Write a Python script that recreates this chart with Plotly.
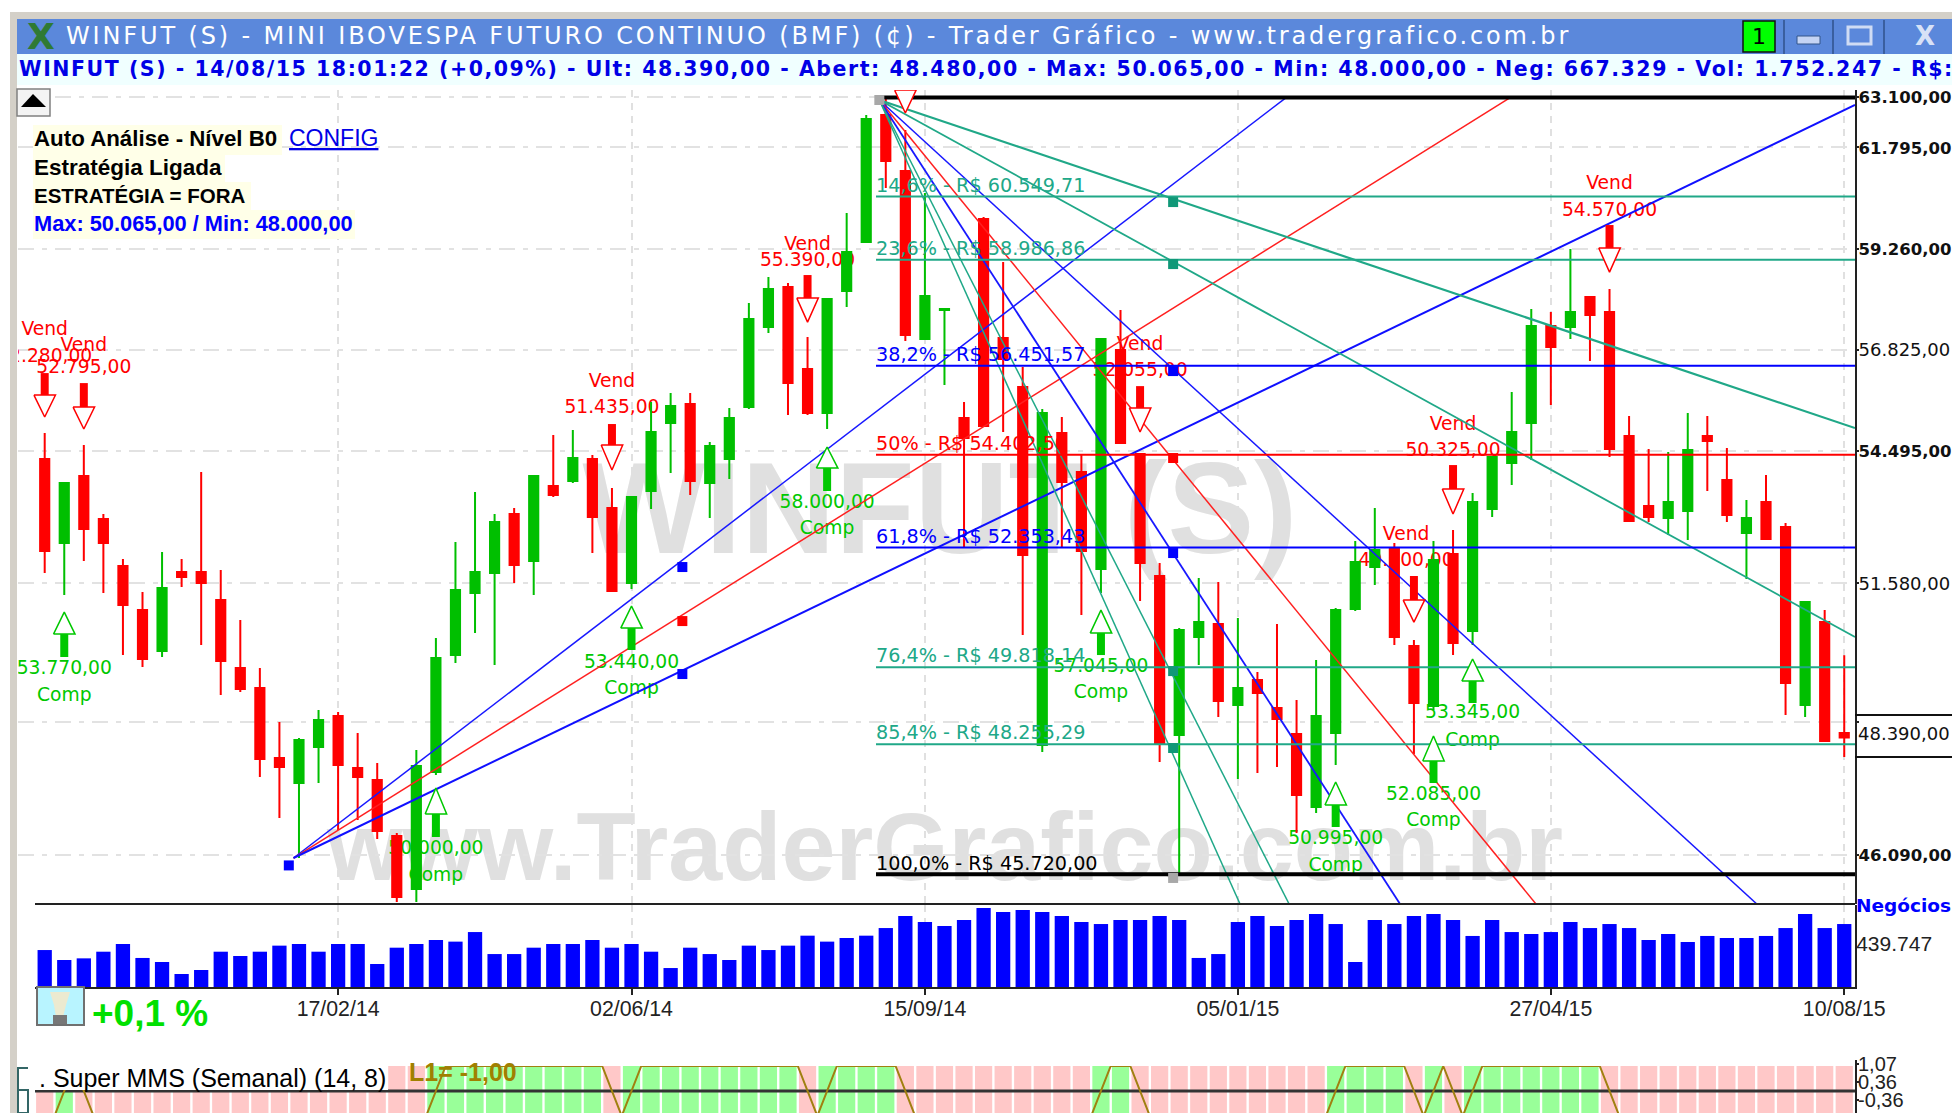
import math
import plotly.graph_objects as go

bar_index = list(range(93))
tick_idx = [15, 30, 45, 61, 77, 92]
tick_labels = ["17/02/14", "02/06/14", "15/09/14", "05/01/15", "27/04/15", "10/08/15"]

high = [54897,53793,54625,53084,52104,51395,52255,52104,54016,51867,
        50802,49801,48700,48378,48943,48902,48478,47880,46511,48138,
        50425,52472,53570,53084,53216,53927,54852,54965,54399,53660,
        53459,55606,55814,55814,54693,55468,57935,58563,58417,57124,
        58031,60137,62631,63085,62242,60638,57791,55606,60037,58928,
        56418,55445,55262,54399,57077,57767,54422,52017,50634,51695,
        51609,50844,49719,50718,49146,49967,51055,52494,53216,52450,
        50383,52494,52733,53548,54354,55837,57791,57719,59246,58103,
        58272,55285,54534,54467,55353,55285,54557,53393,53950,52886,
        51183,51013,50065]
open_ = [54309,52450,53927,52974,51953,51013,50154,51824,51824,51225,
         49801,49391,47979,47484,48198,48821,47781,47543,46453,45444,
         47701,50071,51374,51802,53084,52060,53704,53815,54309,53216,
         51588,53593,55125,55560,53771,54309,55491,57361,58321,56371,
         55353,58224,59419,62631,61194,57077,57767,55239,59988,57100,
         55953,48238,54897,54016,51888,56817,54422,51738,48438,50446,
         50718,49045,49555,48984,48458,47014,48478,51034,51931,52320,
         50258,49024,52212,50571,53194,54219,55125,57385,57361,58079,
         57719,54829,53260,52996,53150,54829,53838,52668,53349,52798,
         49045,50760,48480]
close = [52276,53771,52755,52450,51119,49988,51481,51717,51588,49946,
         49370,47959,47800,48338,48740,47840,47602,46550,45294,47820,
         50009,51438,51824,52908,51974,53927,53504,54331,53018,51417,
         53459,54919,55514,53815,54602,55239,57552,58272,56045,55353,
         58031,59173,62527,61448,57171,58103,57791,54783,55056,56605,
         52190,55353,53793,52276,57077,54670,52017,48278,50592,50760,
         49126,49391,49289,48760,47249,48821,51013,52039,52298,50446,
         49085,52082,50321,53349,54354,54919,57385,56888,57719,57647,
         54534,52930,53018,53349,54512,54715,53062,52996,52537,49494,
         51183,48318,48390]
low = [51802,51331,52060,51374,50071,49822,50030,51502,50279,49248,
       49309,47602,46801,46031,47484,46569,46762,46395,45200,45200,
       47642,49905,50529,49863,51588,51331,53459,53771,52233,51417,
       51459,53194,53994,53504,52996,53860,55445,57219,55307,55307,
       54988,57839,59395,60763,57029,57053,55999,52341,55033,54919,
       50487,48098,52363,50907,51374,54670,51204,47899,45720,49863,
       48801,47563,47682,47800,46511,46898,47840,50992,51545,50279,
       48058,48943,50071,50279,53018,53726,54286,55537,57077,56559,
       54354,52908,52908,52624,52515,53593,52908,51674,52537,48841,
       48801,48318,48000]

volume = [378,276,293,361,440,297,256,133,174,361,317,361,423,440,361,440,440,235,402,440,
          481,464,562,337,337,402,440,440,481,402,440,361,194,402,337,276,423,378,423,525,
          464,501,525,603,726,665,624,685,808,767,787,767,726,665,644,685,685,726,685,297,
          337,665,726,624,685,747,644,256,685,644,726,747,685,522,685,562,542,562,665,603,
          644,603,481,542,460,522,501,501,522,603,747,603,644]
volume = [v * 1000 for v in volume]

green_state_ranges = [(1, 1), (20, 28), (30, 38), (40, 43), (54, 55), (66, 69), (71, 71), (73, 79)]
osc_state = [-1] * 93
for a, b in green_state_ranges:
    for i in range(a, b + 1):
        osc_state[i] = 1

fib_labels = ["14,6% - R$ 60.549,71", "23,6% - R$ 58.986,86", "38,2% - R$ 56.451,57", "50% - R$ 54.402,50",
              "61,8% - R$ 52.353,43", "76,4% - R$ 49.818,14", "85,4% - R$ 48.255,29", "100,0% - R$ 45.720,00"]
fib_values = [60549.71, 58986.86, 56451.57, 54402.50, 52353.43, 49818.14, 48255.29, 45720.00]
fib_colors = ["#20a888", "#20a888", "#0000ff", "#ff0000", "#0000ff", "#20a888", "#20a888", "#000000"]
fib_widths = [2, 2, 2, 2, 2, 2, 2, 4]

rise_start = (12.72, 46031)
rise_end_idx = [63.5, 74.96, 92.55]
rise_end_price = [63100, 63100, 62892]
rise_colors = ["#1818ff", "#ff2020", "#1010ff"]
rise_widths = [1.5, 1.5, 2]
rise_sq_idx = 32.6
rise_sq_price = [51931, 50781, 49678]

fall_start = (42.67, 63022)
fall_end_idx = [92.55, 92.55, 87.53, 76.24, 69.29, 63.62, 61.11]
fall_end_price = [55010, 50446, 45162, 45162, 45162, 45162, 45162]
fall_colors = ["#20a888", "#20a888", "#1818ff", "#ff2020", "#1818ff", "#20a888", "#20a888"]
fall_widths = [2.2, 1.8, 1.5, 1.5, 1.8, 1.5, 1.5]
fall_sq_idx = 57.69
fall_sq_price = [60412, 58879, 56325, 54331, 52233, 49739, 48178]

sell_idx = [0, 2, 29, 39, 44, 56, 70, 72, 80]
sell_stem_top = [56278, 56045, 55102, 58612, 64000, 55975, 51738, 54173, 59839]
sell_tri_top = [55768, 55491, 54625, 58055, 63281, 55468, 51225, 53637, 59271]
sell_tri_bot = [55262, 54988, 54061, 57480, 62683, 54919, 50760, 53084, 58684]

buy_idx = [1, 20, 30, 40, 54, 66, 71, 73]
buy_tri_top = [50971, 47386, 51097, 54580, 51013, 47504, 48418, 49988]
buy_tri_base = [50508, 46878, 50634, 54106, 50529, 47053, 47919, 49534]
buy_stem_bot = [50030, 46434, 50175, 53593, 50071, 46627, 47484, 49085]

sell_label_idx = [0, 2, 29, 39, 56, 69.6, 72, 80]
sell_vend_y = [57293, 56900, 56068, 59345, 56935, 52624, 55079, 60865]
sell_value_y = [56652, 56395, 55468, 58952, 56325, 52060, 54490, 60187]
sell_value_text = ["52.280,00", "52.795,00", "51.435,00", "55.390,00", "52.055,00", "49.000,00", "50.325,00", "54.570,00"]

buy_value_y = [49780, 46203, 49905, 53327, 49822, 46395, 47249, 48882]
buy_comp_y = [49228, 45690, 49370, 52755, 49289, 45879, 46743, 48318]
buy_value_text = ["53.770,00", "50.000,00", "53.440,00", "58.000,00", "57.045,00", "50.995,00", "52.085,00", "53.345,00"]

price_ticks = [63100, 61795, 59260, 56825, 54495, 51580, 48700, 46090]
price_tick_bold = '<b><span style="font-size:16.5px">%s</span></b>'
price_tick_text = [price_tick_bold % "63.100,00", price_tick_bold % "61.795,00", price_tick_bold % "59.260,00", "56.825,00",
                   price_tick_bold % "54.495,00", "51.580,00", "", price_tick_bold % "46.090,00"]

W, H = 1952, 1113
def X(px):
    return px / W
def Y(py):
    return 1 - py / H

GREEN, RED = "#00bf00", "#ff0000"
TEXT_FONT = "DejaVu Sans"
fig = go.Figure()

fig.add_trace(go.Candlestick(
    x=bar_index, open=open_, high=high, low=low, close=close,
    increasing=dict(line=dict(color=GREEN, width=2), fillcolor=GREEN),
    decreasing=dict(line=dict(color=RED, width=2), fillcolor=RED),
    whiskerwidth=0, hoverinfo="skip", showlegend=False, xaxis="x", yaxis="y"))

def line(xs, ys, color, width, **kw):
    fig.add_trace(go.Scatter(x=xs, y=ys, mode="lines", line=dict(color=color, width=width),
                             hoverinfo="skip", showlegend=False, xaxis="x", yaxis="y", **kw))

for i in range(3):
    line([rise_start[0], rise_end_idx[i]], [rise_start[1], rise_end_price[i]], rise_colors[i], rise_widths[i])
for i in range(7):
    line([fall_start[0], fall_end_idx[i]], [fall_start[1], fall_end_price[i]], fall_colors[i], fall_widths[i])
for i in range(8):
    line([42.5, 92.55], [fib_values[i], fib_values[i]], fib_colors[i], fib_widths[i])
line([42.5, 92.55], [63085, 63085], "#000000", 4)

def squares(xs, ys, colors):
    fig.add_trace(go.Scatter(x=xs, y=ys, mode="markers",
                             marker=dict(symbol="square", size=10, color=colors, line=dict(width=0)),
                             hoverinfo="skip", showlegend=False, xaxis="x", yaxis="y"))
squares([rise_sq_idx] * 3, rise_sq_price, ["#0000ff", "#ff0000", "#0000ff"])
squares([fall_sq_idx] * 7, fall_sq_price, ["#109878", "#109878", "#0000ff", "#ff0000", "#0000ff", "#109878", "#109878"])
squares([fall_start[0], fall_sq_idx], [63022, 45652], ["#a8a8a8", "#a8a8a8"])
squares([12.48], [45890], ["#0000ff"])

# arrows
half = 0.55
sx, sy, tx, ty = [], [], [], []
for i, st, tt, tb in zip(sell_idx, sell_stem_top, sell_tri_top, sell_tri_bot):
    sx += [i, i, None]; sy += [st, tt, None]
    tx += [i - half, i + half, i, i - half, None]; ty += [tt, tt, tb, tt, None]
line(sx, sy, RED, 8)
fig.add_trace(go.Scatter(x=tx, y=ty, mode="lines", fill="toself", fillcolor="#ffffff",
                         line=dict(color=RED, width=1.5), hoverinfo="skip", showlegend=False, xaxis="x", yaxis="y"))
sx, sy, tx, ty = [], [], [], []
for i, tt, tb, sb in zip(buy_idx, buy_tri_top, buy_tri_base, buy_stem_bot):
    sx += [i, i, None]; sy += [tb, sb, None]
    tx += [i - half, i + half, i, i - half, None]; ty += [tb, tb, tt, tb, None]
line(sx, sy, "#00c800", 8)
fig.add_trace(go.Scatter(x=tx, y=ty, mode="lines", fill="toself", fillcolor="#ffffff",
                         line=dict(color="#00c800", width=1.5), hoverinfo="skip", showlegend=False, xaxis="x", yaxis="y"))

def texts(xs, ys, labels, colors, pos="middle center", size=18.7, xa="x", ya="y"):
    fig.add_trace(go.Scatter(x=xs, y=ys, mode="text", text=labels, textposition=pos,
                             textfont=dict(family=TEXT_FONT, size=size, color=colors),
                             hoverinfo="skip", showlegend=False, xaxis=xa, yaxis=ya))

texts([42.5] * 8, fib_values, fib_labels, fib_colors, pos="top right", size=19.2)
# signal captions sit behind the candles, on an underlying pair of axes
texts(sell_label_idx, sell_vend_y, ["Vend"] * 8, RED, xa="x4", ya="y4")
texts(sell_label_idx, sell_value_y, sell_value_text, RED, xa="x4", ya="y4")
texts(buy_idx, buy_value_y, buy_value_text, "#00c800", xa="x4", ya="y4")
texts(buy_idx, buy_comp_y, ["Comp"] * 8, "#00c800", xa="x4", ya="y4")

# volume
fig.add_trace(go.Bar(x=bar_index, y=volume, marker=dict(color="#0000ff", line=dict(width=0)),
                     width=0.73, hoverinfo="skip", showlegend=False, xaxis="x2", yaxis="y2"))

# oscillator
fig.add_trace(go.Bar(x=bar_index, y=[2.5] * 93, base=-1.5,
                     marker=dict(color=["#99ff99" if s > 0 else "#ffc8c8" for s in osc_state], line=dict(width=0)),
                     width=0.88, hoverinfo="skip", showlegend=False, xaxis="x3", yaxis="y3"))
fig.add_trace(go.Scatter(x=[-0.5, 92.55], y=[0, 0], mode="lines", line=dict(color="#333333", width=3),
                         hoverinfo="skip", showlegend=False, xaxis="x3", yaxis="y3"))
fig.add_trace(go.Scatter(x=[i + 0.5 for i in bar_index], y=osc_state, mode="lines",
                         line=dict(color="#a08010", width=2), hoverinfo="skip", showlegend=False, xaxis="x3", yaxis="y3"))

xdom = [X(35), X(1855)]
xrange_ = [-0.496, 92.55]
price_xdom = [X(18), X(1855)]
price_xrange = [-1.365, 92.55]
price_yrange = [math.log10(45162), math.log10(63284)]
grid_v = dict(showgrid=True, gridcolor="#e0e0e0", gridwidth=1.5, griddash="7px,6px")
grid_h = dict(showgrid=True, gridcolor="#e2e2e2", gridwidth=2, griddash="16px,8px,5px,8px")
AXIS = "#222222"
layout = dict(
    width=W, height=H, autosize=False, margin=dict(l=0, r=0, t=0, b=0, pad=0, autoexpand=False),
    paper_bgcolor="#ffffff", plot_bgcolor="#ffffff", showlegend=False, boxgap=0.33, barmode="overlay",
    xaxis4=dict(domain=price_xdom, range=price_xrange, anchor="y4", showticklabels=False, ticks="",
                showgrid=False, showline=False, zeroline=False),
    yaxis4=dict(domain=[Y(904), Y(90)], type="log", range=price_yrange, anchor="x4", showticklabels=False, ticks="",
                showgrid=False, showline=False, zeroline=False),
    xaxis=dict(overlaying="x4", range=price_xrange, anchor="y", tickmode="array", tickvals=tick_idx, ticktext=[""] * 6,
               showticklabels=False, ticks="", showline=False, zeroline=False,
               rangeslider=dict(visible=False), **grid_v),
    yaxis=dict(overlaying="y4", type="log", range=price_yrange, anchor="x", side="right",
               tickmode="array", tickvals=price_ticks, ticktext=price_tick_text,
               tickfont=dict(family=TEXT_FONT, size=18, color="#111111"), ticks="outside", ticklen=2, tickwidth=2,
               ticklabelstandoff=-4,
               tickcolor=AXIS, showline=True, linecolor=AXIS, linewidth=2, zeroline=False, **grid_h),
    xaxis2=dict(domain=xdom, range=xrange_, anchor="y2", tickmode="array", tickvals=tick_idx, ticktext=tick_labels,
                tickfont=dict(family="Liberation Sans", size=21.3, color="#222222"), ticks="outside", ticklen=6, tickwidth=2,
                ticklabelstandoff=-5,
                tickcolor=AXIS, tickangle=0, showline=True, linecolor=AXIS, linewidth=2, zeroline=False, **grid_v),
    yaxis2=dict(domain=[Y(987), Y(905)], range=[0, 838614], anchor="x2", side="right", tickmode="array",
                tickvals=[439747], ticktext=["439.747"], tickfont=dict(family="Liberation Sans", size=21, color="#222222"),
                ticklabelstandoff=-5,
                ticks="outside", ticklen=0, showline=True, linecolor=AXIS, linewidth=2, showgrid=False, zeroline=False),
    xaxis3=dict(domain=xdom, range=xrange_, anchor="y3", showticklabels=False, ticks="", showgrid=False, showline=False, zeroline=False),
    yaxis3=dict(domain=[0, Y(1060)], range=[-0.88, 1.24], anchor="x3", side="right", tickmode="array",
                tickvals=[1.07, 0.36, -0.36], ticktext=["1,07", "0,36", "-0,36"],
                tickfont=dict(family="Liberation Sans", size=20, color="#222222"), ticks="outside", ticklen=2, tickwidth=2,
                ticklabelstandoff=-5,
                tickcolor=AXIS, showline=True, linecolor=AXIS, linewidth=2, showgrid=False, zeroline=False),
)

def rect(x0, y0, x1, y1, fill=None, lc=None, lw=0, layer="above", **kw):
    return dict(type="rect", xref="paper", yref="paper", x0=X(x0), x1=X(x1), y0=Y(y1), y1=Y(y0),
                fillcolor=fill or "rgba(0,0,0,0)", line=dict(color=lc or "rgba(0,0,0,0)", width=lw), layer=layer, **kw)
def hline(x0, x1, y, color=AXIS, w=2):
    return dict(type="line", xref="paper", yref="paper", x0=X(x0), x1=X(x1), y0=Y(y), y1=Y(y),
                line=dict(color=color, width=w), layer="above")
def vline(x, y0, y1, color, w=2):
    return dict(type="line", xref="paper", yref="paper", x0=X(x), x1=X(x), y0=Y(y0), y1=Y(y1),
                line=dict(color=color, width=w), layer="above")
def pts(points):
    return "M " + " L ".join(f"{X(a)},{Y(b)}" for a, b in points) + " Z"

shapes = [
    rect(18, 90, 35, 904, fill="#ffffff", layer="below"),
    rect(500, 433, 1380, 558, layer="below", label=dict(text="WINFUT (S)", textposition="middle center",
         font=dict(family="Liberation Sans", size=130, color="#e0e0e0", weight="bold"))),
    rect(300, 782, 1590, 892, layer="below", label=dict(text="www.TraderGrafico.com.br", textposition="middle center",
         font=dict(family="Liberation Sans", size=97, color="#e0e0e0", weight="bold"))),
    hline(35, 1855, 904),
    hline(1855, W, 715, "#111111", 2), hline(1855, W, 757, "#111111", 2),
    # window chrome
    rect(10, 12, 17, H, fill="#d4d0c8"),
    rect(10, 12, W, 19, fill="#d4d0c8"),
    rect(17, 19, W, 54, fill="#5b88db"),
    rect(17, 54, W, 85, fill="#f0ffff"),
    rect(1743, 21, 1775, 52, fill="#00ff00", lc="#111111", lw=1.5),
    rect(1797, 36, 1820, 44, fill="#c4d4f4", lc="#33558a", lw=1),
    rect(1848, 27, 1871, 44, lc="#d0dcf4", lw=3),
    vline(1784, 20, 54, "#3a5f9f"), vline(1833, 20, 54, "#3a5f9f"), vline(1884, 20, 54, "#3a5f9f"),
    # scroll button
    rect(17, 89, 50, 116, fill="#f4f4f4", lc="#808080", lw=1.5),
    dict(type="path", xref="paper", yref="paper", path=pts([(21, 107), (46, 107), (33, 94)]), fillcolor="#000000", line=dict(width=0), layer="above"),
    # text backgrounds
    rect(33, 125, 282, 155, fill="#ffffe8"),
    rect(33, 155, 225, 182, fill="#ffffe8"),
    rect(33, 182, 251, 210, fill="#ffffe8"),
    rect(33, 210, 355, 239, fill="#ffffe8"),
    # bulb button
    rect(37, 987, 84, 1025, fill="#b8f4ff", lc="#707070", lw=2),
    dict(type="path", xref="paper", yref="paper", path=pts([(50, 992), (70, 992), (66, 1005), (63, 1017), (56, 1017), (54, 1005)]),
         fillcolor="#ecead0", line=dict(width=0), layer="above"),
    rect(53, 1015, 67, 1024, fill="#777777"),
    # oscillator label
    rect(35, 1060, 388, 1090, fill="#ffffff"),
    rect(35, 1060, 1855, 1066, fill="#ffffff"),
    dict(type="path", xref="paper", yref="paper", path="M %f,%f L %f,%f L %f,%f L %f,%f L %f,%f L %f,%f" % (
        X(28), Y(1068), X(18), Y(1068), X(18), Y(1113), X(28), Y(1113), X(28), Y(1090), X(18), Y(1090)),
        line=dict(color="#336666", width=2), layer="above"),
]
layout["shapes"] = shapes

def note(text, x, y, color="#000000", size=18, fam="Liberation Sans", xanchor="left", bold=False, **kw):
    return dict(text=f"<b>{text}</b>" if bold else text, x=X(x), y=Y(y), xref="paper", yref="paper", showarrow=False,
                xanchor=xanchor, yanchor="middle", font=dict(family=fam, size=size, color=color), align="left",
                borderpad=0, **kw)

title_text = '<span style="letter-spacing:2.86px">WINFUT (S) - MINI IBOVESPA FUTURO CONTINUO (BMF) (¢) - Trader Gráfico - www.tradergrafico.com.br</span>'
info_text = '<span style="letter-spacing:1.54px">WINFUT (S) - 14/08/15 18:01:22 (+0,09%) - Ult: 48.390,00 - Abert: 48.480,00 - Max: 50.065,00 - Min: 48.000,00 - Neg: 667.329 - Vol: 1.752.247 - R$:</span>'
layout["annotations"] = [
    note(title_text, 65, 36, "#ffffff", 24, "DejaVu Sans"),
    note(info_text, 18, 69, "#0000e6", 20.5, "DejaVu Sans", bold=True),
    note("X", 41, 36, "#2f7a34", 36, "DejaVu Sans", xanchor="center", bold=True),
    note("1", 1759, 36, "#000000", 22, "DejaVu Sans", xanchor="center"),
    note("X", 1925, 36, "#d8e2f6", 26, "DejaVu Sans", xanchor="center", bold=True),
    note("Auto Análise - Nível B0", 33, 139, size=22.3, bold=True),
    note("<u>CONFIG</u>", 288, 138, "#0000e6", 23),
    note("Estratégia Ligada", 33, 168, size=22.5, bold=True),
    note("ESTRATÉGIA = FORA", 33, 195, size=20.5, bold=True),
    note("Max: 50.065,00 / Min: 48.000,00", 33, 223, "#0000ff", 21.8, bold=True),
    note("48.390,00", 1857, 733, "#111111", 18, "DejaVu Sans"),
    note("Negócios", 1855, 905, "#0000ff", 18.5, "DejaVu Sans", bold=True),
    note("+0,1 %", 91, 1013, "#00e000", 37, bold=True),
    note(". Super MMS (Semanal) (14, 8)", 38, 1078, "#000000", 25),
    note("L1= -1,00", 408, 1072, "#a08000", 25, bold=True),
]

fig.update_layout(**layout)
post = ("document.documentElement.style.overflow='hidden';document.body.style.margin='0';"
        "document.body.style.overflow='hidden';")
fig.write_html("out.html", config=dict(displayModeBar=False, responsive=False), post_script=post)
